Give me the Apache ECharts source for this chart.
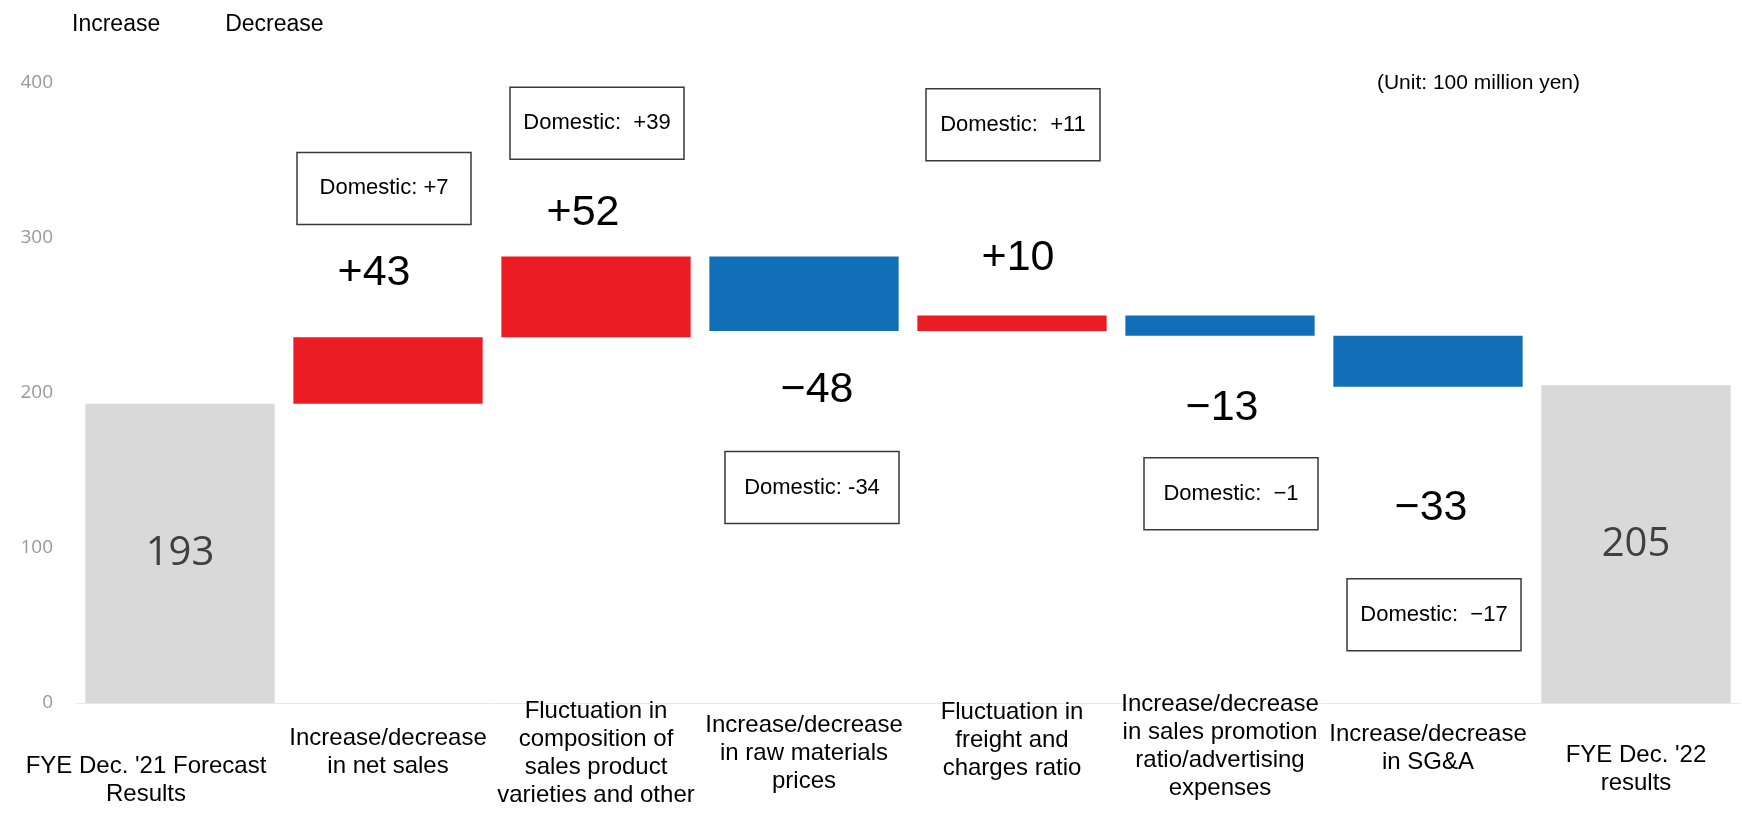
<!DOCTYPE html>
<html>
<head>
<meta charset="utf-8">
<script src="https://cdn.jsdelivr.net/npm/echarts@6/dist/echarts.min.js"></script>
<style>
  html, body { margin: 0; padding: 0; background: #fff; }
  #chart { width: 1742px; height: 819px; }
</style>
</head>
<body>
<div id="chart"></div>
<script>
// categories along the bottom
const categories = [
  "FYE Dec. '21 Forecast\nResults",
  'Increase/decrease\nin net sales',
  'Fluctuation in\ncomposition of\nsales product\nvarieties and other',
  'Increase/decrease\nin raw materials\nprices',
  'Fluctuation in\nfreight and\ncharges ratio',
  'Increase/decrease\nin sales promotion\nratio/advertising\nexpenses',
  'Increase/decrease\nin SG&A',
  "FYE Dec. '22\nresults"
]
const startValue = 193
const endValue = 205
const changes = [43, 52, -48, 10, -13, -33]
const domesticNotes = [
  'Domestic: +7',
  'Domestic:  +39',
  'Domestic: -34',
  'Domestic:  +11',
  'Domestic:  \u22121',
  'Domestic:  \u221217'
]
const yMin = 0
const yMax = 400
const yStep = 100

// layout tweaks (label gaps / annotation anchors)
const changeLabelGap = [43, 22, 38, 36, 51, 100]
const changeLabelShift = [-14, -13, 13, 6, 2, 3]
const noteCenterY = [332, 374, 139, 373, 135, 57]
const noteShiftX = [-4, 1, 8, 1, 11, 6]

const textFont = "'Liberation Sans', Arial, sans-serif"
const numFont = "'Open Sans', 'Noto Sans', sans-serif"
const RED = '#ec1c24'
const BLUE = '#106fb7'
const GREY = '#d9d9d9'

// build waterfall stacks
const baseData = ['-']
const incData = ['-']
const decData = ['-']
const totalData = [startValue]
let running = startValue
changes.forEach((c, i) => {
  const lbl = {
    distance: changeLabelGap[i],
    offset: [changeLabelShift[i], 0]
  }
  if (c >= 0) {
    baseData.push(running)
    incData.push({ value: c, label: lbl })
    decData.push('-')
  } else {
    baseData.push(running + c)
    decData.push({ value: -c, label: lbl })
    incData.push('-')
  }
  totalData.push('-')
  running += c
})
baseData.push('-')
incData.push('-')
decData.push('-')
totalData.push(endValue)

// per-category label drop (px below the highest label)
const catDrop = [62, 34, 7, 21, 8, 0, 30, 51]
const catData = categories.map((c, i) => {
  const pad = [catDrop[i], 0, 0, 0]
  if (i === 0) pad[1] = 68
  return { value: c, textStyle: { padding: pad } }
})

const chart = echarts.init(document.getElementById('chart'))

const option = {
  animation: false,
  backgroundColor: '#fff',
  legend: {
    data: ['Increase', 'Decrease'],
    left: 62,
    top: 8,
    icon: 'none',
    itemWidth: 0,
    itemGap: 60,
    selectedMode: false,
    textStyle: { fontFamily: textFont, fontSize: 23, color: '#000' }
  },
  title: {
    text: '(Unit: 100 million yen)',
    right: 157,
    top: 68,
    textStyle: { fontFamily: textFont, fontSize: 21, fontWeight: 'normal', color: '#000' }
  },
  grid: { left: 76, right: 2, top: 83, bottom: 116, containLabel: false, outerBoundsMode: 'none' },
  xAxis: {
    type: 'category',
    data: catData,
    axisLine: { show: true, lineStyle: { color: '#e8e8e8', width: 1 } },
    axisTick: { show: false },
    axisLabel: {
      interval: 0,
      margin: -13,
      fontFamily: textFont,
      fontSize: 24,
      lineHeight: 28,
      color: '#000'
    }
  },
  yAxis: {
    type: 'value',
    min: yMin,
    max: yMax,
    interval: yStep,
    axisLine: { show: false },
    axisTick: { show: false },
    splitLine: { show: false },
    axisLabel: { margin: 23, fontFamily: numFont, fontSize: 19, color: '#999' }
  },
  series: [
    {
      name: 'base',
      type: 'bar',
      stack: 'wf',
      barWidth: '91%',
      itemStyle: { color: 'transparent' },
      emphasis: { disabled: true },
      data: baseData
    },
    {
      name: 'Increase',
      type: 'bar',
      stack: 'wf',
      itemStyle: { color: RED },
      label: {
        show: true,
        position: 'top',
        fontFamily: textFont,
        fontSize: 43,
        color: '#000',
        formatter: p => '+' + p.value
      },
      data: incData
    },
    {
      name: 'Decrease',
      type: 'bar',
      stack: 'wf',
      itemStyle: { color: BLUE },
      label: {
        show: true,
        position: 'bottom',
        fontFamily: textFont,
        fontSize: 43,
        color: '#000',
        formatter: p => '\u2212' + p.value
      },
      data: decData
    },
    {
      name: 'Total',
      type: 'bar',
      stack: 'wf',
      itemStyle: { color: GREY },
      label: {
        show: true,
        position: 'inside',
        fontFamily: numFont,
        fontSize: 40,
        color: '#404040'
      },
      data: totalData
    }
  ]
}

chart.setOption(option)

// domestic annotation boxes anchored through the axes
const boxW = 174
const boxH = 72
const notes = domesticNotes.map((txt, i) => {
  const pt = chart.convertToPixel({ gridIndex: 0 }, [i + 1, noteCenterY[i]])
  const cx = pt[0] + noteShiftX[i]
  const cy = pt[1]
  return {
    type: 'group',
    x: cx - boxW / 2,
    y: cy - boxH / 2,
    children: [
      {
        type: 'rect',
        shape: { x: 0, y: 0, width: boxW, height: boxH },
        style: { fill: '#fff', stroke: '#3a3a3a', lineWidth: 1.5 }
      },
      {
        type: 'text',
        x: boxW / 2,
        y: boxH / 2,
        style: {
          text: txt,
          align: 'center',
          verticalAlign: 'middle',
          font: '22px ' + textFont,
          fill: '#000'
        }
      }
    ]
  }
})

chart.setOption({ graphic: notes })

window.addEventListener('resize', () => chart.resize())
</script>
</body>
</html>
